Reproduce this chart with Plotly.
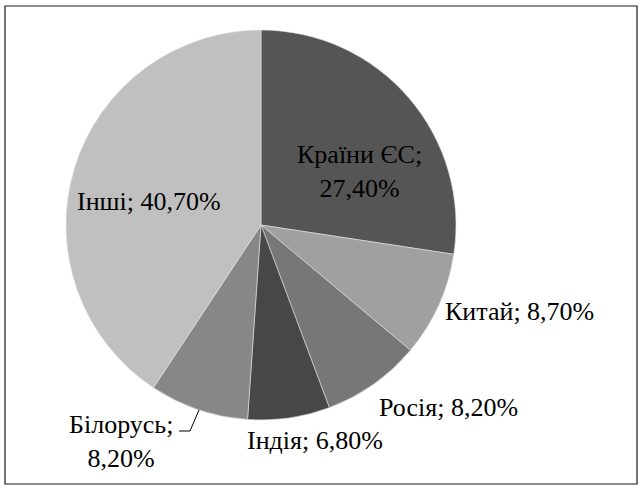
import plotly.graph_objects as go

labels = ["Країни ЄС", "Китай", "Росія", "Індія", "Білорусь", "Інші"]
values = [27.4, 8.7, 8.2, 6.8, 8.2, 40.7]
value_text = ["27,40%", "8,70%", "8,20%", "6,80%", "8,20%", "40,70%"]
colors = ["#555555", "#a0a0a0", "#777777", "#474747", "#878787", "#c0c0c0"]

W, H = 640, 488
cx, cy, R = 261, 225, 195
SERIF = "Liberation Serif"


def px(x):
    return x / W


def py(y):
    return 1 - y / H


fig = go.Figure(go.Pie(
    labels=labels, values=values, sort=False, direction="clockwise", rotation=0,
    marker=dict(colors=colors, line=dict(color="#e0e0e0", width=0.6)),
    textinfo="none", hoverinfo="label+percent", showlegend=False,
    domain=dict(x=[(cx - R) / W, (cx + R) / W], y=[(H - cy - R) / H, (H - cy + R) / H]),
))

# label placement (pixel centres)
label_pos = [
    (359, 171, "{0};<br>{1}"),
    (519, 311, "{0}; {1}"),
    (448, 407, "{0}; {1}"),
    (315, 440, "{0}; {1}"),
    (121, 441, "{0};<br>{1}"),
    (149, 201, "{0}; {1}"),
]
for (x, y, tpl), lab, vt in zip(label_pos, labels, value_text):
    fig.add_annotation(x=px(x), y=py(y), xref="paper", yref="paper",
                       text=tpl.format(lab, vt), showarrow=False,
                       font=dict(family=SERIF, size=26, color="black"),
                       align="center", xanchor="center", yanchor="middle")

# leader line for Білорусь
fig.add_shape(type="path", xref="paper", yref="paper",
              path=f"M {px(179)} {py(431)} L {px(190)} {py(431)} L {px(199)} {py(410)}",
              line=dict(color="#000000", width=1))
# chart border
fig.add_shape(type="rect", xref="paper", yref="paper",
              x0=px(5), x1=px(637), y0=py(484), y1=py(6),
              line=dict(color="#1a1a1a", width=1.2))

fig.update_layout(width=W, height=H, margin=dict(l=0, r=0, t=0, b=0),
                  paper_bgcolor="white", plot_bgcolor="white",
                  font=dict(family=SERIF, size=26, color="black"))

post_js = (
    "document.body.style.margin='0';"
    "document.querySelectorAll('.annotation-text').forEach(function(e){"
    "e.style.fontFamily='\"Liberation Serif\", \"Times New Roman\", serif';});"
)
fig.write_html("out.html", config={"displayModeBar": False}, post_script=post_js)
